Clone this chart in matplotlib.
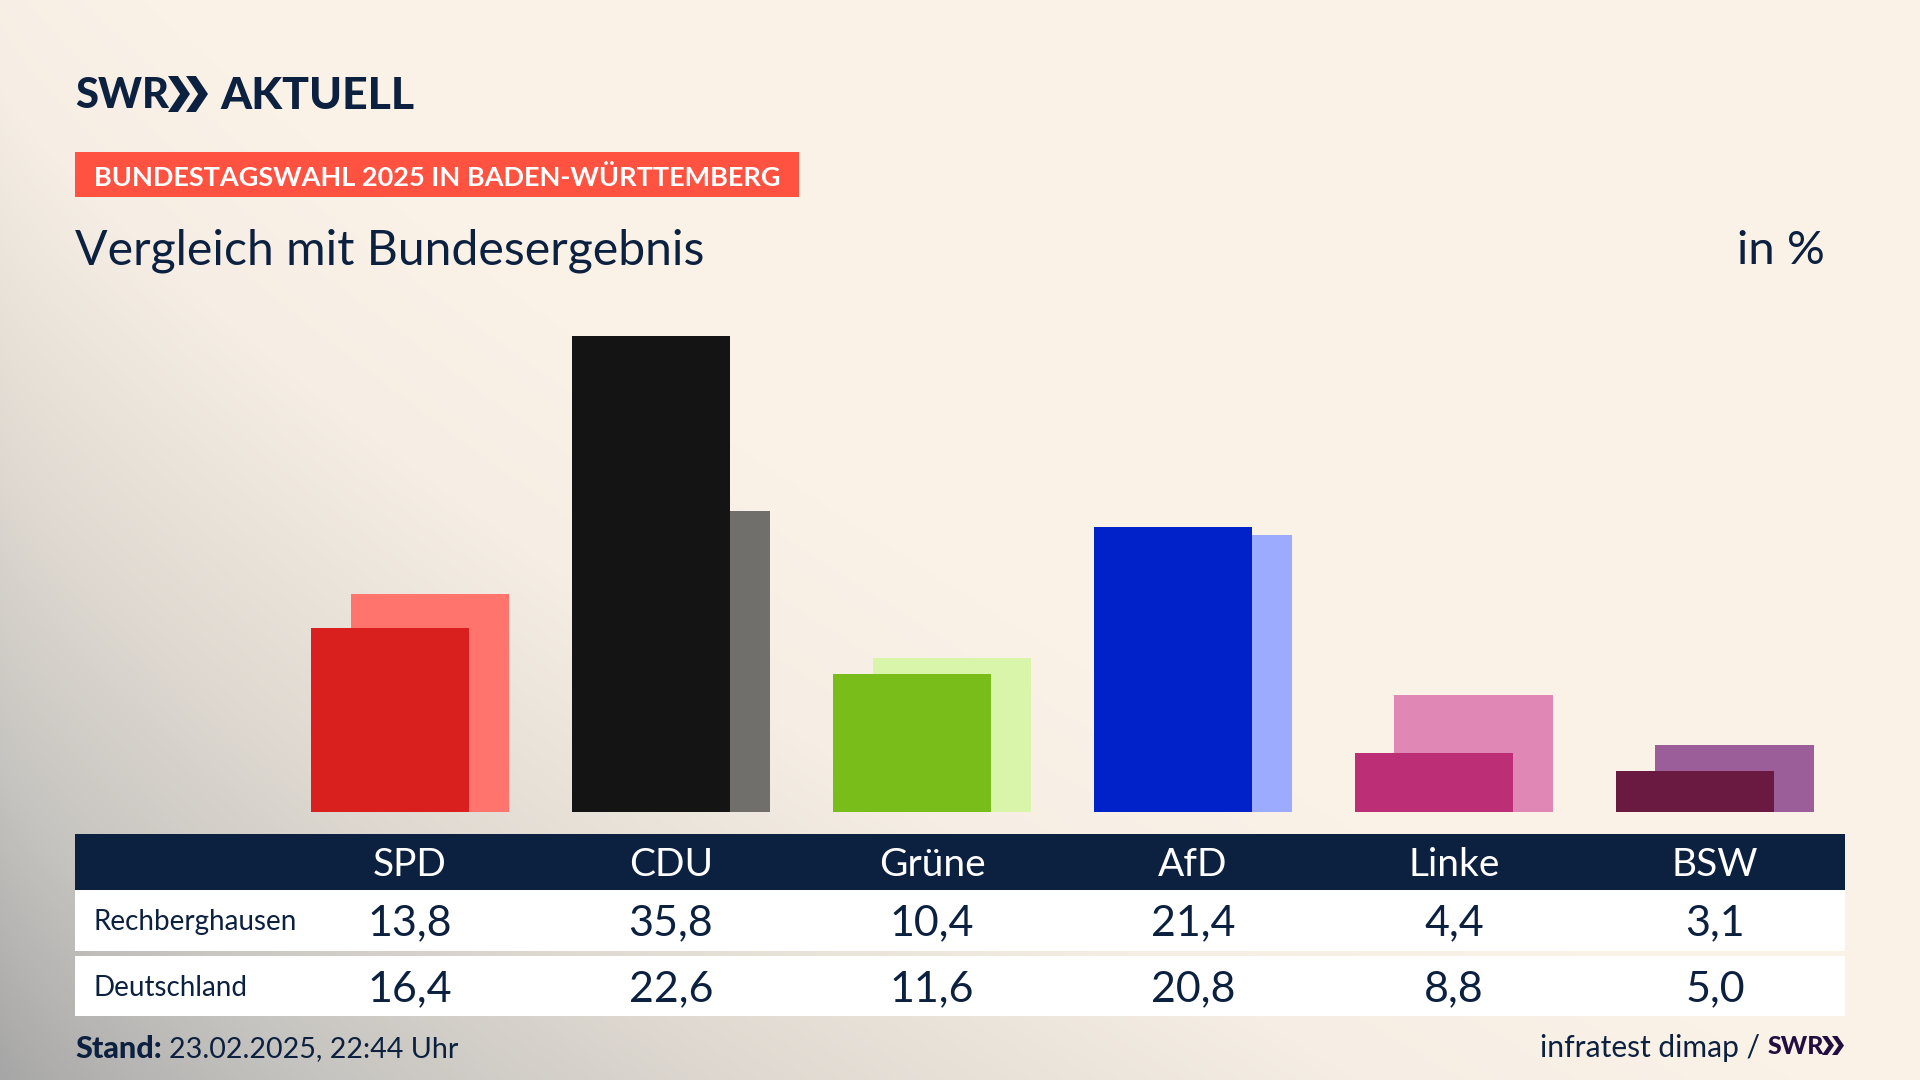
import numpy as np
import matplotlib
matplotlib.use("Agg")
import matplotlib.pyplot as plt
from matplotlib.colors import LinearSegmentedColormap
from matplotlib.patches import Polygon, Rectangle

parties = ["SPD", "CDU", "Grüne", "AfD", "Linke", "BSW"]
rechberghausen = [13.8, 35.8, 10.4, 21.4, 4.4, 3.1]
deutschland = [16.4, 22.6, 11.6, 20.8, 8.8, 5.0]
row_names = ["Rechberghausen", "Deutschland"]
front_colors = ["#D9201E", "#141414", "#79BD1B", "#0022C8", "#BC2E76", "#6A1A40"]
back_colors = ["#FF756D", "#706F6C", "#D8F5A9", "#9DABFF", "#E087B6", "#9B5E99"]

NAVY = "#0C2040"
plt.rcParams["font.family"] = ["Lato", "DejaVu Sans"]

fig = plt.figure(figsize=(19.2, 10.8), dpi=100)

# Hintergrund mit Verlauf von unten links
bg = fig.add_axes([0, 0, 1, 1], zorder=0)
bg.axis("off")
yy, xx = np.mgrid[0:1080:270j, 0:1920:480j]
dist = (xx / 1800) ** 0.8 + (1080 - yy) / 1250
cmap = LinearSegmentedColormap.from_list(
    "bg", [(0, "#A6A6A6"), (0.25, "#C6C4C0"), (0.5, "#DFD9D1"), (0.8, "#F6EEE4"), (1, "#FAF2E7")]
)
bg.imshow(np.clip(dist, 0, 1), cmap=cmap, vmin=0, vmax=1, aspect="auto",
          extent=[0, 1920, 1080, 0], interpolation="bilinear")

# Balken
ax = fig.add_axes([75 / 1920, (1080 - 812) / 1080, 1770 / 1920, 512 / 1080], zorder=1)
ax.patch.set_alpha(0)
ax.axis("off")
x = np.arange(len(parties))
ax.bar(x + 0.0755, deutschland, width=0.606, color=back_colors)
ax.bar(x - 0.0767, rechberghausen, width=0.606, color=front_colors)
ax.set_xlim(-1.2837, 5.499)
ax.set_ylim(0, 38.47)

# Tabelle, Titel und Fusszeile in Pixelkoordinaten
ov = fig.add_axes([0, 0, 1, 1], zorder=2)
ov.patch.set_alpha(0)
ov.axis("off")
ov.set_xlim(0, 1920)
ov.set_ylim(1080, 0)


def chevrons(x0, top, bottom, width, step, color):
    mid = (top + bottom) / 2
    for k in range(2):
        xs = x0 + k * step
        ov.add_patch(Polygon([(xs, top), (xs + width * 0.55, mid), (xs, bottom),
                              (xs + width * 0.45, bottom), (xs + width, mid), (xs + width * 0.45, top)],
                             closed=True, color=color, lw=0))


ov.text(75, 96, "SWR", fontsize=30, fontweight=900, color=NAVY, va="center", ha="left")
chevrons(168, 76, 112, 22, 18, NAVY)
ov.text(220, 96, "AKTUELL", fontsize=32, fontweight=900, color=NAVY, va="center", ha="left")

ov.add_patch(Rectangle((75, 152), 724, 45, color="#FF5240", lw=0))
ov.text(94, 177, "BUNDESTAGSWAHL 2025 IN BADEN-WÜRTTEMBERG", fontsize=19.55, fontweight="bold",
        color="white", va="center", ha="left")

ov.text(75, 251, "Vergleich mit Bundesergebnis", fontsize=34.7, color=NAVY, va="center", ha="left")
ov.text(1825, 251, "in %", fontsize=34, color=NAVY, va="center", ha="right")

ov.add_patch(Rectangle((75, 834), 1770, 56, color=NAVY, lw=0))
ov.add_patch(Rectangle((75, 890), 1770, 61, color="white", lw=0))
ov.add_patch(Rectangle((75, 956), 1770, 60, color="white", lw=0))

centers = 410 + 261 * x
for i, name in enumerate(parties):
    ov.text(centers[i], 865, name, fontsize=28, color="white", ha="center", va="center")
    ov.text(centers[i], 923, f"{rechberghausen[i]:.1f}".replace(".", ","), fontsize=31, color=NAVY,
            ha="center", va="center")
    ov.text(centers[i], 989, f"{deutschland[i]:.1f}".replace(".", ","), fontsize=31, color=NAVY,
            ha="center", va="center")
ov.text(94, 922, row_names[0], fontsize=20, color=NAVY, ha="left", va="center")
ov.text(94, 988, row_names[1], fontsize=20, color=NAVY, ha="left", va="center")

# Fusszeile
ov.text(75, 1049, "Stand:", fontsize=22, fontweight=900, color=NAVY, ha="left", va="center")
ov.text(169, 1049, "23.02.2025, 22:44 Uhr", fontsize=20.6, color=NAVY, ha="left", va="center")
ov.text(1760, 1048, "infratest dimap /", fontsize=21.6, color=NAVY, ha="right", va="center")
ov.text(1768, 1047, "SWR", fontsize=18, fontweight=900, color="#230F3F", ha="left", va="center")
chevrons(1822, 1036, 1055, 12, 10, "#230F3F")

fig.savefig("out.png", dpi=100)
plt.close(fig)
